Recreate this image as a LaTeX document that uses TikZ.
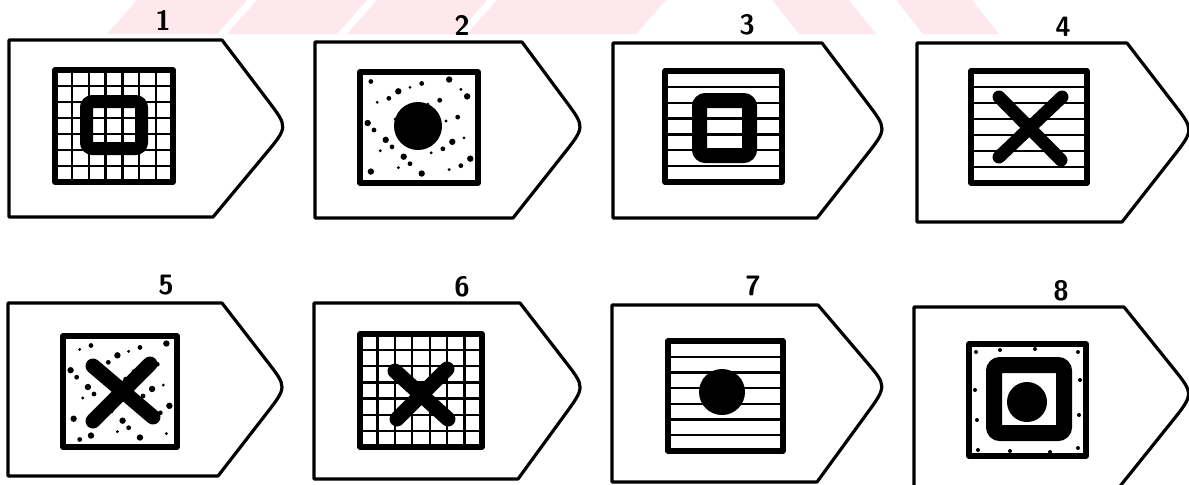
\documentclass[tikz,border=0pt]{standalone}
\usetikzlibrary{calc}
\definecolor{wmpink}{RGB}{253,233,237}
\tikzset{
  card/.style={draw=black, line width=1.6pt, fill=white, line join=round},
  panel/.style={draw=black, line width=2.6pt, line join=round},
  hatch/.style={black, line width=1.2pt},
  ring/.style={draw=black, line width=#1, rounded corners=3pt},
  cross/.style={black, line width=#1, line cap=round},
  spot/.style={fill=black},
  lbl/.style={font=\sffamily\bfseries\fontsize{14}{16}\selectfont, inner sep=0pt}
}
% left, top, top right, tip x, tip y, bottom right, bottom
\newcommand{\tagcard}[7]{%
  \draw[card] (#1,#2) -- (#3,#2) -- ($(#3,#2)!0.7!(#4,#5)$)
    .. controls (#4,#5) .. ($(#4,#5)!0.3!(#6,#7)$) -- (#6,#7) -- (#1,#7) -- cycle;}
% panel with a 7x7 grid: left, top, width, height
\newcommand{\gridpanel}[4]{%
  \foreach \k in {1,...,6} {
    \draw[hatch] ({#1+\k*#3/7},#2) -- ++(0,#4);
    \draw[hatch] (#1,{#2+\k*#4/7}) -- ++(#3,0);
  }
  \draw[panel] (#1,#2) rectangle ++(#3,#4);}
% panel with 7 horizontal bands
\newcommand{\stripepanel}[4]{%
  \foreach \k in {1,...,6}
    \draw[hatch] (#1,{#2+\k*#4/7}) -- ++(#3,0);
  \draw[panel] (#1,#2) rectangle ++(#3,#4);}
% stippled panel (jittered 6x6 scatter)
\newcommand{\dotpanel}[5]{%
  \foreach \i in {0,...,5} {
    \foreach \j in {0,...,5} {
      \pgfmathsetmacro\dx{(\i+0.15+0.7*mod(\i*3+\j*7+#5,5)/4)/6}
      \pgfmathsetmacro\dy{(\j+0.15+0.7*mod(\i*5+\j*2+#5,7)/6)/6}
      \pgfmathsetmacro\dr{0.8+0.8*mod(\i+2*\j+#5,3)/2}
      \fill[spot] ({#1+5+\dx*(#3-10)},{#2+5+\dy*(#4-10)}) circle (\dr pt);
    }
  }
  \draw[panel] (#1,#2) rectangle ++(#3,#4);}

\begin{document}
\begin{tikzpicture}[x=0.5pt, y=-0.5pt]
  \clip (0,0) rectangle (1189,484);
  \fill[white] (0,0) rectangle (1189,484);

  % faint watermark
  \foreach \a/\b in {107/217, 227/337, 347/457, 467/636}
    \fill[wmpink] (\a,34) -- (\b,34) -- ({\b+30},0) -- ({\a+30},0) -- cycle;
  \foreach \a/\b in {772/849, 896/972}
    \fill[wmpink] (\a,0) -- (\b,0) -- ({\b+27},34) -- ({\a+27},34) -- cycle;

  % cards
  \tagcard{9}{40}{222}{288}{127}{213}{217}
  \tagcard{315}{42}{522}{585}{127}{513}{218}
  \tagcard{613}{43}{822}{887}{129}{817}{218}
  \tagcard{917}{43}{1127}{1194}{130}{1122}{222}
  \tagcard{8}{303}{222}{287}{387}{218}{476}
  \tagcard{314}{303}{520}{585}{387}{518}{479}
  \tagcard{612}{305}{818}{887}{386}{817}{482}
  \tagcard{914}{307}{1124}{1194}{394}{1117}{490}

  % 1
  \gridpanel{55}{70}{118}{112}
  \draw[ring=6.5pt] (86.5,101.5) rectangle (141.5,148.5);
  % 2
  \dotpanel{360}{72}{118}{111}{1}
  \fill[spot] (418,126) circle (12pt);
  % 3
  \stripepanel{665}{71}{117}{111}
  \draw[ring=7.5pt] (699.5,100.5) rectangle (749.5,155.5);
  % 4
  \stripepanel{971}{71}{116}{112}
  \draw[cross=6.5pt] (999,97) -- (1061,160);
  \draw[cross=6.5pt] (1062,97) -- (999,157);
  % 5
  \dotpanel{63}{336}{114}{111}{3}
  \draw[cross=7.5pt] (93,366) -- (153,417);
  \draw[cross=7.5pt] (150,364) -- (93,421);
  % 6
  \gridpanel{360}{334}{122}{113}
  \draw[cross=7.5pt] (395,371) -- (448,419);
  \draw[cross=7.5pt] (447,369) -- (397,419);
  % 7
  \stripepanel{668}{341}{115}{110}
  \fill[spot] (722,392) circle (11.5pt);
  % 8
  \foreach \p in {(976,352),(1000,350),(1035,349),(1078,352),(1080,380),(1079,415),
                  (1078,448),(1050,452),(1010,451),(978,450),(977,420),(975,390)}
    \fill[spot] \p circle (1pt);
  \draw[panel] (969,344) rectangle (1086,456);
  \draw[ring=8pt] (994,365) rectangle (1064,433);
  \fill[spot] (1027,402) circle (10pt);

  % labels
  \node[lbl] (n1) at (163,20)  {1};
  \node[lbl] (n2) at (462,25)  {2};
  \node[lbl] (n3) at (747,25)  {3};
  \node[lbl] (n4) at (1063,27) {4};
  \node[lbl] (n5) at (166,285) {5};
  \node[lbl] (n6) at (462,287) {6};
  \node[lbl] (n7) at (753,286) {7};
  \node[lbl] (n8) at (1061,291) {8};
\end{tikzpicture}
\end{document}
